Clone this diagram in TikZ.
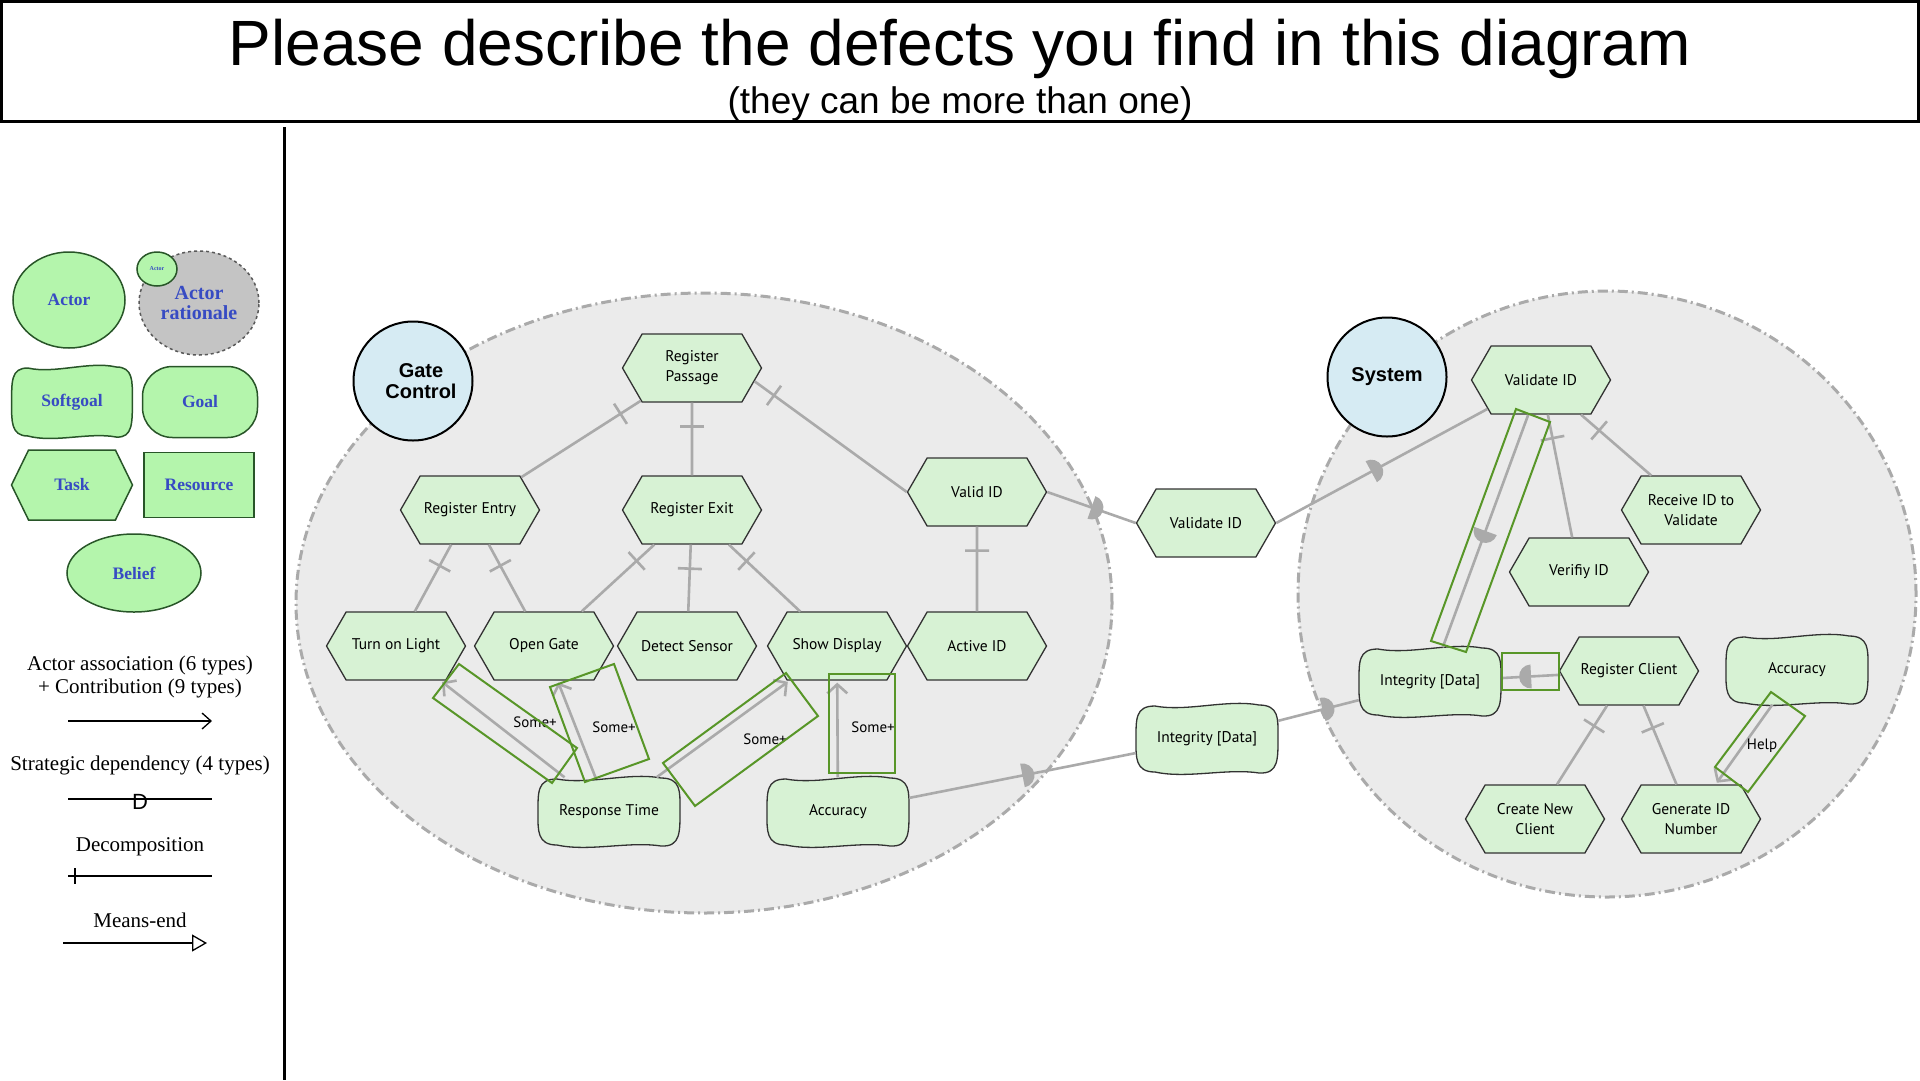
\documentclass[tikz,border=0pt]{standalone}
\usepackage{fontspec}
\setmainfont{Liberation Serif}
\newfontfamily\headfont{Liberation Sans}
\newfontfamily\istarfont{PT Sans}
\usetikzlibrary{shapes.geometric,shapes.symbols,arrows.meta,decorations.markings}

\definecolor{taskfill}{RGB}{215,242,212}
\definecolor{nodeline}{RGB}{50,50,50}
\definecolor{legfill}{RGB}{180,245,172}
\definecolor{legline}{RGB}{40,85,40}
\definecolor{legblue}{RGB}{55,75,195}
\definecolor{actorfill}{RGB}{214,235,243}
\definecolor{boundfill}{RGB}{235,235,235}
\definecolor{linkgray}{RGB}{170,170,170}
\definecolor{markgreen}{RGB}{88,150,40}
\definecolor{ratfill}{RGB}{196,196,196}

% softgoal outline, centred on (0,0)
\newcommand{\sgpath}{(-52,-33) .. controls (-20,-27) and (20,-40) .. (52,-34)
  .. controls (72,-34) and (71,-20) .. (71,-4) .. controls (71,20) and (72,35) .. (52,34)
  .. controls (20,29) and (-20,40) .. (-52,33)
  .. controls (-72,33) and (-71,18) .. (-71,2) .. controls (-71,-20) and (-72,-33) .. (-52,-33) -- cycle}
\newcommand{\softgoal}[4]{%
  \draw[sgline,shift={(#2,#3)}] \sgpath;
  \node[sgtext] (#1) at (#2,#3) {#4};}

\begin{document}
\begin{tikzpicture}[x=1pt,y=-1pt,
  task/.style={shape=signal,signal to=east and west,signal pointer angle=120,draw=nodeline,fill=taskfill,
    line width=1.3,minimum width=139,minimum height=68,inner sep=1,align=center,
    font=\istarfont\fontsize{15.5}{20}\selectfont},
  sgline/.style={draw=nodeline,fill=taskfill,line width=1.3},
  sgtext/.style={minimum width=142,minimum height=69,inner sep=0,align=center,
    font=\istarfont\fontsize{15.5}{20}\selectfont},
  actor/.style={circle,draw=black,line width=2,fill=actorfill,minimum size=119,inner sep=0,align=center,
    font=\headfont\bfseries\fontsize{20}{21}\selectfont},
  bound/.style={fill=boundfill,draw=linkgray,line width=3,dash pattern=on 10pt off 4pt on 2pt off 4pt},
  decomp/.style={draw=linkgray,line width=2.6,postaction={decorate},
    decoration={markings,mark=at position 24pt with {\draw[linkgray,line width=2.6] (0,-12) -- (0,12);}}},
  dep/.style={draw=linkgray,line width=2.6,postaction={decorate},
    decoration={markings,mark=at position #1 with
      {\fill[linkgray] (0pt,-12pt) arc[start angle=-90,end angle=90,radius=12pt] -- cycle;}}},
  dep/.default=0.5,
  contrib/.style={draw=linkgray,line width=2.6,-{Straight Barb[length=9pt,width=20pt]},shorten >=2pt},
  lbl/.style={font=\istarfont\fontsize{15}{15}\selectfont},
  hl/.style={draw=markgreen,line width=2},
  lgline/.style={draw=legline,fill=legfill,line width=1.5},
  lgtext/.style={text=legblue,align=center,font=\bfseries\fontsize{17.5}{19}\selectfont},
  lgshape/.style={lgline,lgtext},
  lgnote/.style={font=\fontsize{21}{21}\selectfont}]
    \useasboundingbox (0,0) rectangle (1920,1080);

    %title
    \draw [line width=3] (1.5,1.5) rectangle (1918.5,121.5);
    \node [anchor=base,font=\headfont\fontsize{64}{64}\selectfont] (title) at (960,65)
      {Please describe the defects you find in this diagram};
    \node [anchor=base,font=\headfont\fontsize{37}{37}\selectfont] (subtitle) at (960,113)
      {(they can be more than one)};
    \draw [line width=3] (284,127) -- (284,1080);

    %legend
    \node[lgshape,ellipse,minimum width=112,minimum height=96] (lgactor) at (69,300) {Actor};
    \node[ellipse,draw=black!65,dashed,line width=1.5,fill=ratfill,minimum width=120,minimum height=104,
      lgtext,font=\bfseries\fontsize{20}{20}\selectfont] (lgrat) at (199,303) {Actor\\rationale};
    \node[lgshape,ellipse,minimum width=40,minimum height=34,inner sep=0,
      font=\bfseries\fontsize{6}{6}\selectfont] (lgsub) at (157,269) {Actor};
    \draw[lgline,shift={(72,402)},xscale=0.85,yscale=1.03] \sgpath;
    \node[lgtext] (lgsoft) at (72,402) {Softgoal};
    \node[lgshape,rounded corners=30,minimum width=115,minimum height=71] (lggoal) at (200,402) {Goal};
    \node[lgshape,signal,signal to=east and west,signal pointer angle=128,
      minimum width=121,minimum height=70] (lgtask) at (72,485) {Task};
    \node[lgshape,minimum width=110,minimum height=65] (lgres) at (199,485) {Resource};
    \node[lgshape,ellipse,minimum width=134,minimum height=78] (lgbel) at (134,573) {Belief};

    \node[lgnote] (lgassoc) at (140,665) {Actor association (6 types)};
    \node[lgnote] (lgcontr) at (140,688) {+ Contribution (9 types)};
    \coordinate (la1) at (68,721); \coordinate (la2) at (212,721);
    \draw[line width=1.3,-{Straight Barb[length=9pt,width=16pt]}] (la1) -- (la2);
    \node[lgnote] (lgdep) at (140,765) {Strategic dependency (4 types)};
    \coordinate (ls1) at (68,799); \coordinate (ls2) at (212,799);
    \draw[line width=1.3] (ls1) -- (ls2);
    \node[font=\headfont\fontsize{22}{22}\selectfont,inner sep=0] (lgd) at (140,802) {D};
    \node[lgnote] (lgdec) at (140,847) {Decomposition};
    \coordinate (ld1) at (68,876); \coordinate (ld2) at (212,876);
    \draw[line width=1.3] (ld1) -- (ld2);
    \draw[line width=1.3] (75,868) -- (75,884);
    \node[lgnote] (lgme) at (140,920) {Means-end};
    \coordinate (lm1) at (63,943); \coordinate (lm2) at (207,943);
    \draw[line width=1.3,-{Triangle[open,length=15pt,width=17pt]}] (lm1) -- (lm2);

    %actor boundaries
    \draw[bound] (704,603) ellipse [x radius=408pt,y radius=310pt];
    \draw[bound] (1607,594) ellipse [x radius=309pt,y radius=303pt];

    %Gate Control
    \node[actor] (gc) at (413,381) {\hspace*{16pt}Gate\\\hspace*{16pt}Control};
    \node[task] (rp) at (692,368) {Register\\Passage};
    \node[task] (re) at (470,510) {Register Entry};
    \node[task] (rx) at (692,510) {Register Exit};
    \node[task] (tl) at (396,646) {Turn on Light};
    \node[task] (og) at (544,646) {Open Gate};
    \node[task] (ds) at (687,646) {Detect Sensor};
    \node[task] (sd) at (837,646) {Show Display};
    \node[task] (vid) at (977,492) {Valid ID};
    \node[task] (aid) at (977,646) {Active ID};
    \softgoal{rt}{609}{812}{Response Time}
    \softgoal{gacc}{838}{812}{Accuracy}

    %dependums
    \node[task] (mvid) at (1206,523) {Validate ID};
    \softgoal{mint}{1207}{739}{Integrity [Data]}

    %System
    \node[actor] (sys) at (1387,377) {System};
    \node[task] (svid) at (1541,380) {Validate ID};
    \node[task] (rid) at (1691,510) {Receive ID to\\Validate};
    \node[task] (ver) at (1579,572) {Verifiy ID};
    \softgoal{sint}{1430}{682}{Integrity [Data]}
    \node[task] (src) at (1629,671) {Register Client};
    \softgoal{sacc}{1797}{670}{Accuracy}
    \node[task] (cnc) at (1535,819) {Create New\\Client};
    \node[task] (gid) at (1691,819) {Generate ID\\Number};

    %links
    \draw[decomp] (rp.-12) -- (vid.west);
    \foreach \p/\c in {rp/re,rp/rx,re/tl,re/og,rx/og,rx/ds,rx/sd,vid/aid,svid/ver,svid/rid,src/cnc,src/gid}
      \draw[decomp] (\p) -- (\c);
    \foreach \s/\t in {rt/tl,rt/og,rt/sd,gacc/sd,sacc/gid}
      \draw[contrib] (\s) -- (\t);
    \node[lbl] (c1) at (535,722) {Some+};
    \node[lbl] (c2) at (614,727) {Some+};
    \node[lbl] (c3) at (765,739) {Some+};
    \node[lbl] (c4) at (873,727) {Some+};
    \node[lbl] (c5) at (1762,746) {Help};
    \draw[dep] (vid.east) -- (mvid.west);
    \draw[dep=0.45] (mvid.east) -- (svid);
    \draw[dep] (gacc) -- (mint);
    \draw[dep=0.55] (mint) -- (sint);
    \draw[dep] (svid) -- (sint);
    \draw[dep=0.5] (src) -- (sint);

    %highlights
    \draw[hl] (459,664) -- (577,748) -- (552,783) -- (433,698) -- cycle;
    \draw[hl] (550,687) -- (614,664) -- (649,759) -- (585,782) -- cycle;
    \draw[hl] (663,763) -- (786,673) -- (818,716) -- (695,806) -- cycle;
    \draw[hl] (829,674) rectangle (895,773);
    \draw[hl] (1516,409) -- (1550,422) -- (1466,652) -- (1431,641) -- cycle;
    \draw[hl] (1502,653) rectangle (1559,690);
    \draw[hl] (1771,692) -- (1805,716) -- (1748,792) -- (1715,767) -- cycle;
\end{tikzpicture}
\end{document}
